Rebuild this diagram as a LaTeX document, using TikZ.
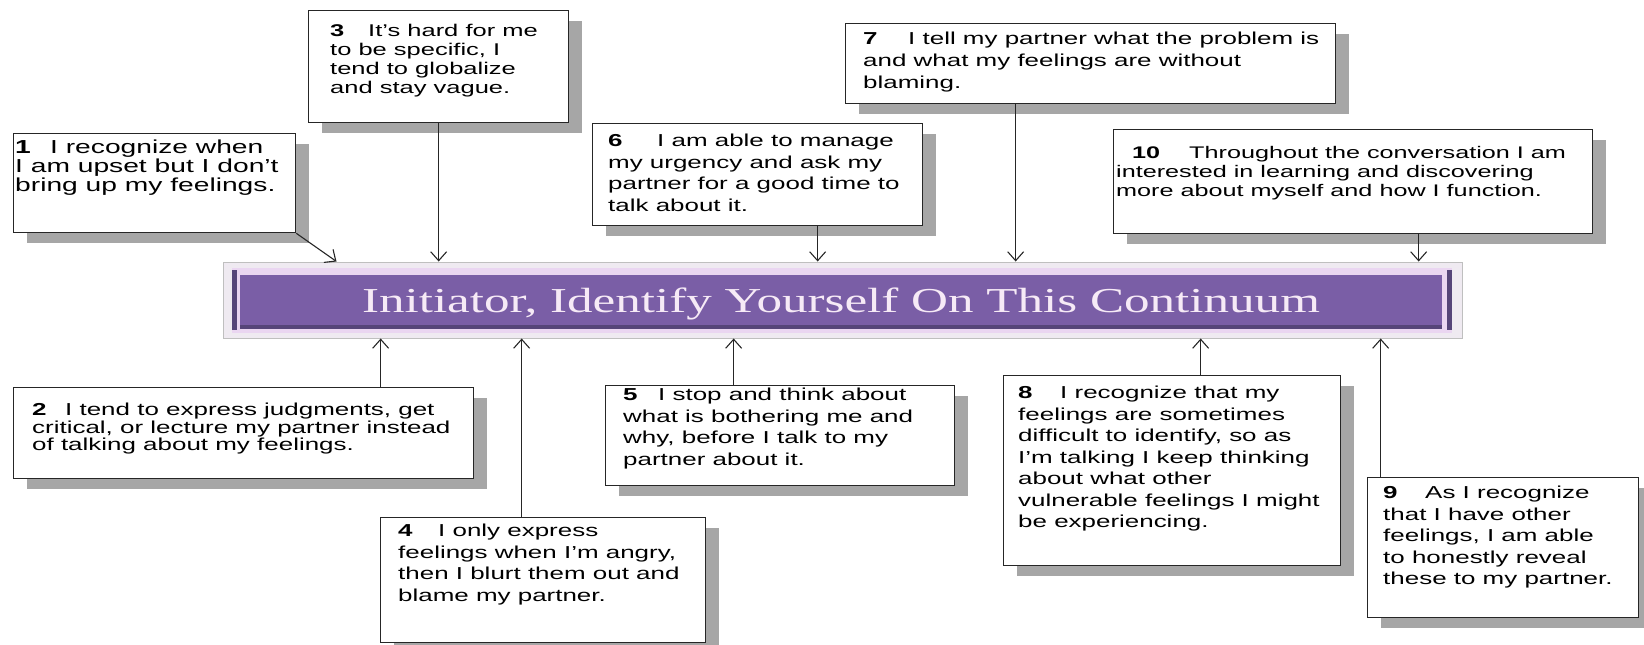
\documentclass[tikz,border=0pt]{standalone}
\usepackage{fontspec}
\setmainfont{Liberation Sans}[FakeStretch=1.5]
\newfontfamily\titlefont{Liberation Serif}[FakeStretch=1.46]
\usetikzlibrary{arrows.meta,shadows}
\definecolor{barpurple}{HTML}{7A5EA6}
\definecolor{bardark}{HTML}{564579}
\definecolor{barpink}{HTML}{EAD6F1}
\definecolor{barlight}{HTML}{EFEAF1}
\definecolor{titletext}{HTML}{F6EAF6}
\newcommand{\itemno}[2]{\makebox[#1pt][l]{\textbf{#2}}}

\begin{document}
\begin{tikzpicture}[
  x=1pt, y=-1pt,
  card/.style={draw=black!85, line width=1.3pt, fill=white, anchor=north west, inner sep=0pt,
    general shadow={fill=black!35, shadow xshift=13pt, shadow yshift=-10pt}},
  cardtext/.style={anchor=north west, align=left, inner sep=0pt, font=\fontsize{17.3}{21.5}\selectfont},
  barframe/.style={draw=black!25, fill=barlight, line width=1pt, inner sep=0pt},
  >={Straight Barb[length=9pt, width=16pt]},
  link/.style={->, line width=1.1pt, draw=black!85},
]
  \useasboundingbox (0,0) rectangle (1644,645);

  % title bar
  \node[barframe, minimum width=1239, minimum height=76] (bar) at (842.5,300) {};
  \fill[barpink] (232,268) rectangle (1452,333);
  \fill[bardark] (232,270) rectangle (237,330);
  \fill[bardark] (1447,270) rectangle (1452,330);
  \fill[bardark] (240,325) rectangle (1442,329);
  \fill[barpurple] (240,275) rectangle (1442,325);
  \node[font=\titlefont\fontsize{35}{35}\selectfont, text=titletext, inner sep=0pt, anchor=base] (title) at (841,312)
    {Initiator, Identify Yourself On This Continuum};

  % cards above the bar
  \node[card, minimum width=282, minimum height=99] (c1) at (13,133) {};
  \node[card, minimum width=260, minimum height=112] (c3) at (308,10) {};
  \node[card, minimum width=330, minimum height=102] (c6) at (592,123) {};
  \node[card, minimum width=490, minimum height=80] (c7) at (845,23) {};
  \node[card, minimum width=479, minimum height=104] (c10) at (1113,129) {};
  % cards below the bar
  \node[card, minimum width=460, minimum height=91] (c2) at (13,387) {};
  \node[card, minimum width=325, minimum height=125] (c4) at (380,517) {};
  \node[card, minimum width=349, minimum height=100] (c5) at (605,385) {};
  \node[card, minimum width=337, minimum height=190] (c8) at (1003,375) {};
  \node[card, minimum width=271, minimum height=140] (c9) at (1367,477) {};

  \node[cardtext, font=\fontsize{18.8}{19}\selectfont] (t1) at ([shift={(2,7)}]c1.north west)
    {\itemno{35}{1}I recognize when\\I am upset but I don't\\bring up my feelings.};
  \node[cardtext, font=\fontsize{17.3}{17.5}\selectfont] (t2) at ([shift={(19,16)}]c2.north west)
    {\itemno{33}{2}I tend to express judgments, get\\critical, or lecture my partner instead\\of talking about my feelings.};
  \node[cardtext, font=\fontsize{17}{19}\selectfont] (t3) at ([shift={(22,14)}]c3.north west)
    {\itemno{38}{3}It's hard for me\\to be specific, I\\tend to globalize\\and stay vague.};
  \node[cardtext] (t4) at ([shift={(18,7)}]c4.north west)
    {\itemno{40}{4}I only express\\feelings when I'm angry,\\then I blurt them out and\\blame my partner.};
  \node[cardtext] (t5) at ([shift={(18,3)}]c5.north west)
    {\itemno{35}{5}I stop and think about\\what is bothering me and\\why, before I talk to my\\partner about it.};
  \node[cardtext] (t6) at ([shift={(16,11)}]c6.north west)
    {\itemno{49}{6}I am able to manage\\my urgency and ask my\\partner for a good time to\\talk about it.};
  \node[cardtext, font=\fontsize{17.3}{22}\selectfont] (t7) at ([shift={(18,9)}]c7.north west)
    {\itemno{45}{7}I tell my partner what the problem is\\and what my feelings are without\\blaming.};
  \node[cardtext] (t8) at ([shift={(15,11)}]c8.north west)
    {\itemno{42}{8}I recognize that my\\feelings are sometimes\\difficult to identify, so as\\I'm talking I keep thinking\\about what other\\vulnerable feelings I might\\be experiencing.};
  \node[cardtext] (t9) at ([shift={(16,9)}]c9.north west)
    {\itemno{42}{9}As I recognize\\that I have other\\feelings, I am able\\to honestly reveal\\these to my partner.};
  \node[cardtext, font=\fontsize{16.8}{19}\selectfont] (t10) at ([shift={(3,17)}]c10.north west)
    {\hspace*{16pt}\itemno{57}{10}Throughout the conversation I am\\interested in learning and discovering\\more about myself and how I function.};

  % connectors
  \draw[link] (c1.south east) -- ([xshift=114]bar.north west);
  \foreach \c/\dx in {c3/0, c6/60, c7/-75, c10/65.5}
    \draw[link] ([xshift=\dx]\c.south) -- ([xshift=\dx]\c.south |- bar.north);
  \foreach \c/\dx in {c2/137, c4/-21.5, c5/-46.5, c8/28.5, c9/-122.5}
    \draw[link] ([xshift=\dx]\c.north) -- ([xshift=\dx]\c.north |- bar.south);
\end{tikzpicture}
\end{document}
